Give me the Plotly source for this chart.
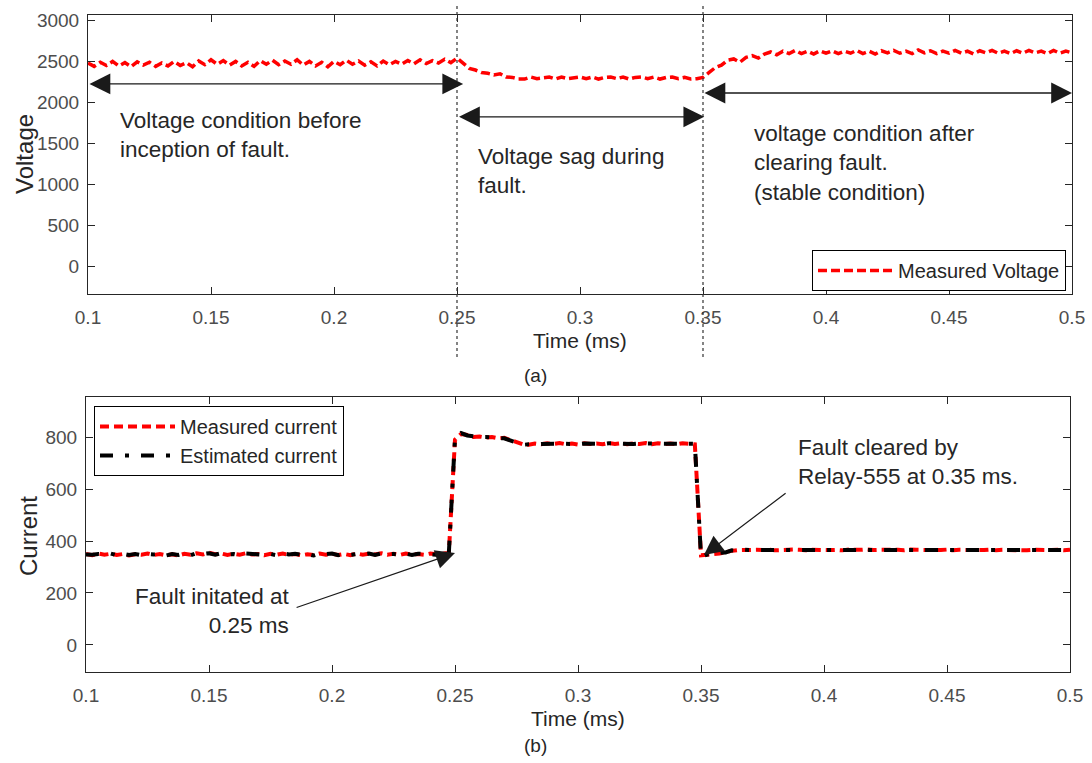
import numpy as np
import plotly.graph_objects as go

# Time grid (ms)
time_ms = np.round(np.arange(0.1, 0.5 + 1e-9, 0.0025), 4)

# Measured voltage: before fault (0.1-0.25), during fault (0.2525-0.35), after clearing (0.3525-0.5)
voltage_pre = [
    2475, 2435, 2485, 2445, 2495, 2440, 2480, 2430, 2490, 2450,
    2485, 2435, 2475, 2440, 2495, 2445, 2480, 2430, 2500, 2455,
    2515, 2460, 2505, 2450, 2495, 2440, 2485, 2435, 2505, 2460,
    2510, 2455, 2500, 2460, 2515, 2450, 2495, 2440, 2485, 2430,
    2495, 2455, 2510, 2460, 2500, 2450, 2490, 2440, 2500, 2455,
    2495, 2460, 2505, 2465, 2515, 2470, 2505, 2475, 2520, 2480,
    2535,
]
voltage_fault = [
    2470, 2410, 2390, 2360, 2350, 2330, 2345, 2305, 2300, 2280,
    2280, 2305, 2285, 2300, 2305, 2280, 2305, 2285, 2300, 2305,
    2285, 2305, 2280, 2300, 2305, 2285, 2305, 2280, 2300, 2305,
    2285, 2305, 2280, 2300, 2305, 2285, 2300, 2280, 2285, 2300,
]
voltage_post = [
    2360, 2420, 2450, 2510, 2525, 2485, 2545, 2565, 2535, 2585,
    2610, 2575, 2620, 2590, 2630, 2590, 2620, 2585, 2625, 2595,
    2625, 2590, 2620, 2595, 2630, 2590, 2620, 2585, 2625, 2600,
    2630, 2595, 2620, 2590, 2635, 2600, 2625, 2590, 2620, 2595,
    2630, 2595, 2620, 2585, 2625, 2600, 2630, 2595, 2620, 2590,
    2625, 2595, 2630, 2600, 2620, 2590, 2630, 2595, 2620, 2600,
]
voltage = voltage_pre + voltage_fault + voltage_post

# Currents: before fault (0.1-0.2475), during fault (0.25-0.3475), after clearing (0.35-0.5)
meas_current_pre = [
    350, 345, 352, 347, 351, 346, 350, 344, 349, 347,
    352, 346, 350, 345, 349, 344, 351, 347, 353, 348,
    355, 349, 352, 346, 351, 347, 353, 348, 350, 345,
    351, 347, 352, 346, 350, 345, 349, 346, 352, 347,
    351, 346, 350, 345, 352, 347, 351, 348, 353, 347,
    351, 346, 352, 348, 350, 347, 352, 349, 351, 355,
]
meas_current_fault = [
    790, 812, 808, 800, 802, 798, 800, 795, 797, 790,
    780, 772, 770, 775, 772, 776, 773, 777, 772, 775,
    771, 776, 773, 775, 772, 777, 773, 776, 772, 775,
    773, 777, 772, 776, 773, 775, 772, 776, 774, 772,
]
meas_current_post = [
    345, 346, 350, 352, 358, 362, 365, 366, 364, 366,
    365, 367, 364, 366, 365, 367, 366, 364, 366, 365,
    367, 365, 366, 364, 367, 365, 366, 368, 365, 366,
    367, 365, 366, 364, 367, 366, 365, 367, 366, 365,
    367, 364, 366, 365, 367, 366, 365, 367, 364, 366,
    365, 367, 366, 364, 366, 365, 367, 365, 366, 364,
    366,
]
measured_current = meas_current_pre + meas_current_fault + meas_current_post

est_current_pre = [
    348, 347, 350, 349, 352, 345, 351, 346, 350, 345,
    350, 348, 351, 344, 350, 346, 352, 345, 354, 350,
    353, 347, 353, 348, 350, 345, 352, 350, 351, 347,
    350, 345, 353, 348, 351, 347, 350, 344, 351, 349,
    352, 345, 351, 347, 350, 349, 352, 346, 352, 349,
    350, 348, 351, 346, 351, 349, 350, 347, 352, 354,
]
est_current_fault = [
    795, 815, 806, 802, 800, 800, 797, 796, 795, 788,
    778, 770, 772, 773, 774, 774, 775, 775, 774, 773,
    773, 775, 774, 774, 773, 776, 775, 774, 774, 773,
    775, 775, 774, 774, 775, 773, 774, 775, 773, 774,
]
est_current_post = [
    340, 348, 348, 354, 356, 364, 363, 367, 365, 365,
    366, 366, 365, 365, 366, 366, 365, 365, 367, 364,
    366, 366, 365, 365, 366, 366, 367, 366, 364, 367,
    366, 366, 365, 365, 366, 367, 366, 366, 365, 366,
    366, 365, 367, 366, 366, 367, 364, 366, 365, 367,
    366, 366, 365, 365, 367, 366, 366, 366, 365, 365,
    365,
]
estimated_current = est_current_pre + est_current_fault + est_current_post

x_ticks = [0.1, 0.15, 0.2, 0.25, 0.3, 0.35, 0.4, 0.45, 0.5]
x_tick_text = ["0.1", "0.15", "0.2", "0.25", "0.3", "0.35", "0.4", "0.45", "0.5"]
v_ticks = [0, 500, 1000, 1500, 2000, 2500, 3000]
i_ticks = [0, 200, 400, 600, 800]
fault_times = [0.25, 0.35]

W, H = 1092, 763
FONT = "Liberation Sans, Arial, Helvetica, sans-serif"
AX = "#262626"
TICK = "#4d4d4d"


def px_x(p):
    return p / W


def px_y(p):
    return 1 - p / H


fig = go.Figure()

fig.add_trace(go.Scatter(
    x=time_ms, y=voltage, mode="lines", name="Measured Voltage",
    line=dict(color="#ff0000", width=3.5, dash="9px,4px"),
    xaxis="x", yaxis="y", legend="legend", showlegend=True,
))
fig.add_trace(go.Scatter(
    x=time_ms, y=measured_current, mode="lines", name="Measured current",
    line=dict(color="#ff0000", width=4, dash="9px,5px"),
    xaxis="x2", yaxis="y2", legend="legend2", showlegend=True,
))
fig.add_trace(go.Scatter(
    x=time_ms, y=estimated_current, mode="lines", name="Estimated current",
    line=dict(color="#000000", width=4, dash="13px,12px,4px,12px"),
    xaxis="x2", yaxis="y2", legend="legend2", showlegend=True,
))

axis_common = dict(
    showline=True, linecolor=AX, linewidth=1, mirror="ticks",
    ticks="inside", ticklen=7, tickcolor=AX, tickwidth=1,
    showgrid=False, zeroline=False, automargin=False,
    tickfont=dict(family=FONT, size=19, color=TICK),
)

legend_font = dict(family=FONT, size=20, color=AX)

fig.update_layout(
    width=W, height=H,
    margin=dict(l=0, r=0, t=0, b=0),
    paper_bgcolor="white", plot_bgcolor="white",
    font=dict(family=FONT, color=AX),
    showlegend=True,
    xaxis=dict(
        domain=[px_x(88), px_x(1072)], anchor="y",
        range=[0.1, 0.5], tickvals=x_ticks, ticktext=x_tick_text,
        ticklabelstandoff=6,
        **axis_common,
    ),
    yaxis=dict(
        domain=[px_y(294), px_y(15)], anchor="x",
        range=[-341, 3061], tickvals=v_ticks,
        ticklabelstandoff=4,
        **axis_common,
    ),
    xaxis2=dict(
        domain=[px_x(86), px_x(1070)], anchor="y2",
        range=[0.1, 0.5], tickvals=x_ticks, ticktext=x_tick_text,
        ticklabelstandoff=6,
        **axis_common,
    ),
    yaxis2=dict(
        domain=[px_y(672), px_y(397)], anchor="x2",
        range=[-104, 954], tickvals=i_ticks,
        ticklabelstandoff=4,
        **axis_common,
    ),
    legend=dict(
        x=px_x(1066), y=px_y(291), xanchor="right", yanchor="bottom",
        bordercolor="#000000", borderwidth=1, bgcolor="white",
        font=legend_font, itemwidth=75, tracegroupgap=0, visible=True,
    ),
    legend2=dict(
        x=px_x(94), y=px_y(406), xanchor="left", yanchor="top",
        bordercolor="#000000", borderwidth=1, bgcolor="white",
        font=legend_font, itemwidth=75, tracegroupgap=0, visible=True,
    ),
)

# Fault inception / clearing markers spanning the voltage panel
for t in fault_times:
    fig.add_shape(
        type="line", xref="x", yref="paper",
        x0=t, x1=t, y0=px_y(357), y1=px_y(5),
        line=dict(color="#333333", width=1.2, dash="dot"),
    )

annotations = []

# Axis titles
title_font = dict(family=FONT, size=21, color=AX)
ylabel_font = dict(family=FONT, size=24, color=AX)
annotations += [
    dict(x=px_x(580), y=px_y(340), xref="paper", yref="paper", showarrow=False,
         text="Time (ms)", font=title_font, xanchor="center", yanchor="middle"),
    dict(x=px_x(578), y=px_y(718), xref="paper", yref="paper", showarrow=False,
         text="Time (ms)", font=title_font, xanchor="center", yanchor="middle"),
    dict(x=px_x(24), y=px_y(154), xref="paper", yref="paper", showarrow=False,
         text="Voltage", font=ylabel_font, textangle=-90, xanchor="center", yanchor="middle"),
    dict(x=px_x(28), y=px_y(536), xref="paper", yref="paper", showarrow=False,
         text="Current", font=ylabel_font, textangle=-90, xanchor="center", yanchor="middle"),
]

# Double-headed span arrows on the voltage panel
spans = [
    (0.1, 0.2525, 2220),
    (0.2502, 0.3505, 1820),
    (0.35, 0.5, 2110),
]
for x0, x1, yv in spans:
    annotations.append(dict(
        x=x1, y=yv, ax=x0, ay=yv, xref="x", yref="y", axref="x", ayref="y",
        text="", showarrow=True, arrowhead=2, startarrowhead=2,
        arrowside="end+start", arrowsize=3.2, startarrowsize=3.2,
        arrowwidth=1.3, arrowcolor="#1a1a1a", standoff=0, startstandoff=0,
    ))

text_font = dict(family=FONT, size=22.5, color=AX)
annotations += [
    dict(x=0.1122, y=1598, xref="x", yref="y", xanchor="left", yanchor="middle",
         align="left", showarrow=False, font=text_font,
         text="Voltage condition before<br>inception of fault."),
    dict(x=0.2577, y=1159, xref="x", yref="y", xanchor="left", yanchor="middle",
         align="left", showarrow=False, font=text_font,
         text="Voltage sag during<br>fault."),
    dict(x=0.3699, y=1256, xref="x", yref="y", xanchor="left", yanchor="middle",
         align="left", showarrow=False, font=text_font,
         text="voltage condition after<br>clearing fault.<br>(stable condition)"),
    dict(x=0.1837, y=131, xref="x2", yref="y2", xanchor="right", yanchor="middle",
         align="right", showarrow=False, font=text_font,
         text="Fault initated at<br>0.25 ms"),
    dict(x=0.3886, y=704, xref="x2", yref="y2", xanchor="left", yanchor="middle",
         align="left", showarrow=False, font=text_font,
         text="Fault cleared by<br>Relay-555 at 0.35 ms."),
    # Pointer arrows on the current panel
    dict(x=0.25, y=354, ax=0.185, ay=142, xref="x2", yref="y2", axref="x2", ayref="y2",
         text="", showarrow=True, arrowhead=2, arrowsize=3.2, arrowwidth=1.2,
         arrowcolor="#1a1a1a", standoff=0),
    dict(x=0.3512, y=346, ax=0.385, ay=588, xref="x2", yref="y2", axref="x2", ayref="y2",
         text="", showarrow=True, arrowhead=2, arrowsize=3.2, arrowwidth=1.2,
         arrowcolor="#1a1a1a", standoff=0),
    # Panel captions
    dict(x=px_x(535), y=px_y(375), xref="paper", yref="paper", showarrow=False,
         xanchor="center", yanchor="middle",
         text="(a)", font=dict(family=FONT, size=19, color=AX)),
    dict(x=px_x(535), y=px_y(745), xref="paper", yref="paper", showarrow=False,
         xanchor="center", yanchor="middle",
         text="(b)", font=dict(family=FONT, size=19, color=AX)),
]
fig.update_layout(annotations=annotations)

fig.write_html("out.html")
